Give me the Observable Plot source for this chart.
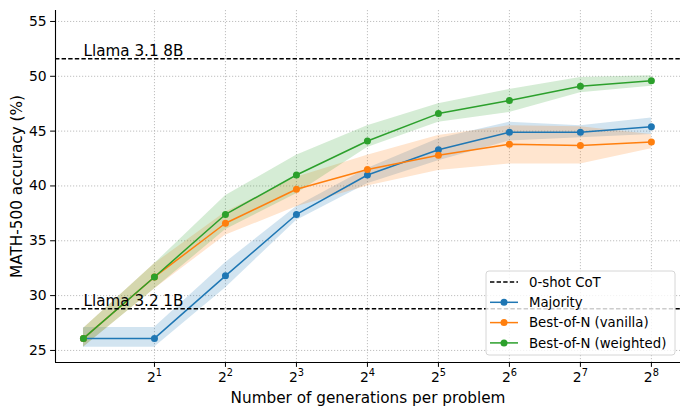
<!DOCTYPE html>
<html>
<head>
<meta charset="utf-8">
<script src="https://cdn.jsdelivr.net/npm/d3@7"></script>
<script src="https://cdn.jsdelivr.net/npm/@observablehq/plot@0.6"></script>
<style>
  body { margin: 0; background: #fff; }
  #chart { position: relative; width: 690px; height: 413px; }
  #chart svg { font-family: "DejaVu Sans" !important; font-size: 13.9px !important; }
</style>
</head>
<body>
<div id="chart"></div>
<script>
const N = [1, 2, 4, 8, 16, 32, 64, 128, 256];
const majority = [26.1, 26.1, 31.8, 37.4, 41.0, 43.3, 44.9, 44.9, 45.4];
const majorityLo = [25.3, 25.3, 30.7, 36.85, 40.2, 42.3, 44.1, 44.4, 44.7];
const majorityHi = [27.1, 27.1, 33.0, 38.1, 41.6, 44.3, 45.8, 45.5, 46.2];
const vanilla = [26.1, 31.7, 36.6, 39.7, 41.5, 42.8, 43.8, 43.7, 44.0];
const vanillaLo = [25.3, 30.6, 35.5, 38.1, 40.0, 41.4, 42.0, 42.0, 43.4];
const vanillaHi = [27.0, 32.9, 37.6, 40.8, 42.8, 44.6, 45.5, 45.4, 44.7];
const weighted = [26.1, 31.7, 37.4, 41.0, 44.1, 46.6, 47.8, 49.1, 49.6];
const weightedLo = [25.3, 30.6, 36.0, 39.3, 43.5, 45.8, 46.7, 48.5, 49.1];
const weightedHi = [27.0, 32.9, 39.1, 42.8, 45.5, 47.5, 48.8, 49.9, 50.05];
const baselines = [{label: "Llama 3.1 8B", value: 51.6}, {label: "Llama 3.2 1B", value: 28.8}];
const seriesNames = ["Majority", "Best-of-N (vanilla)", "Best-of-N (weighted)"];
const colors = ["#1f77b4", "#ff7f0e", "#2ca02c"];
const yTicks = [25, 30, 35, 40, 45, 50, 55];
const xTicks = [2, 4, 8, 16, 32, 64, 128, 256];

const sup = {1: "¹", 2: "²", 3: "³", 4: "⁴", 5: "⁵", 6: "⁶", 7: "⁷", 8: "⁸"};
const series = [
  {name: seriesNames[0], v: majority, lo: majorityLo, hi: majorityHi, color: colors[0]},
  {name: seriesNames[1], v: vanilla, lo: vanillaLo, hi: vanillaHi, color: colors[1]},
  {name: seriesNames[2], v: weighted, lo: weightedLo, hi: weightedHi, color: colors[2]}
];
const rows = series.flatMap(s => N.map((n, i) => ({n, v: s.v[i], lo: s.lo[i], hi: s.hi[i], name: s.name})));

const xDomain = [Math.pow(2, -0.394), Math.pow(2, 8.41)];
const yDomain = [23.9, 56];
const dash = "4.4,2.2";

const marks = [
  Plot.gridY(yTicks, {stroke: "#b0b0b0", strokeOpacity: 1, strokeWidth: 0.8, strokeDasharray: "1.2,1.8"}),
  Plot.gridX(xTicks, {stroke: "#b0b0b0", strokeOpacity: 1, strokeWidth: 0.8, strokeDasharray: "1.2,1.8"}),
];
for (const s of series) {
  const d = rows.filter(r => r.name === s.name);
  marks.push(Plot.areaY(d, {x: "n", y1: "lo", y2: "hi", fill: s.color, fillOpacity: 0.2}));
}
for (const s of series) {
  const d = rows.filter(r => r.name === s.name);
  marks.push(Plot.line(d, {x: "n", y: "v", stroke: s.color, strokeWidth: 1.5}));
  marks.push(Plot.dot(d, {x: "n", y: "v", fill: s.color, r: 3.5}));
}
marks.push(
  Plot.ruleY(baselines, {y: "value", stroke: "black", strokeWidth: 1.5, strokeDasharray: dash}),
  Plot.text(baselines, {x: 1, y: "value", text: "label", textAnchor: "start", lineAnchor: "bottom", dy: -3, fontSize: 15.2, fill: "black"}),
  Plot.ruleX([xDomain[0]], {stroke: "black", strokeWidth: 1.1}),
  Plot.ruleY([yDomain[0]], {stroke: "black", strokeWidth: 1.1}),
  Plot.axisY(yTicks, {tickSize: 4.9, tickPadding: 4, fontSize: 13.9, label: null}),
  Plot.axisX(xTicks, {tickSize: 4.9, tickPadding: 4.5, tickFormat: d => "2" + sup[Math.round(Math.log2(d))], fontSize: 13.9, label: null}),
  Plot.axisY(yTicks, {tickSize: 0, tickFormat: () => "", label: "MATH-500 accuracy (%)", labelAnchor: "center", labelArrow: "none", labelOffset: 44, fontSize: 15.28}),
  Plot.axisX(xTicks, {tickSize: 0, tickFormat: () => "", label: "Number of generations per problem", labelAnchor: "center", labelArrow: "none", labelOffset: 40, fontSize: 15.28})
);

const plot = Plot.plot({
  width: 690,
  height: 413,
  marginLeft: 55,
  marginRight: 10,
  marginTop: 10,
  marginBottom: 51,
  style: {fontFamily: "DejaVu Sans", fontSize: "13.9px", color: "black", background: "white"},
  x: {type: "log", base: 2, domain: xDomain},
  y: {domain: yDomain},
  marks
});
document.getElementById("chart").appendChild(plot);

const svg = d3.select(plot);
// Render exponent tick labels as "2" + raised smaller digit (mathtext-like)
const supInv = Object.fromEntries(Object.entries(sup).map(([k, v]) => [v, k]));
svg.selectAll("text").each(function() {
  const t = this.textContent;
  if (/^2[¹²³⁴⁵⁶⁷⁸]$/.test(t) && this.childElementCount === 0) {
    const el = d3.select(this);
    el.text(null);
    el.append("tspan").text("2");
    el.append("tspan").attr("dy", "-6").attr("font-size", "9.8px").text(supInv[t[1]]);
  }
});

// Legend inside plot (lower right)
const lg = svg.append("g").attr("font-family", "DejaVu Sans").attr("font-size", "13.3px").attr("text-anchor", "start");
lg.append("rect").attr("x", 486).attr("y", 271).attr("width", 189).attr("height", 84)
  .attr("rx", 3).attr("fill", "white").attr("fill-opacity", 0.8).attr("stroke", "#cccccc").attr("stroke-width", 0.8);
const legendItems = [{name: "0-shot CoT", color: "black", dashed: true}].concat(series.map(s => ({name: s.name, color: s.color, dashed: false})));
legendItems.forEach((it, i) => {
  const y = 282 + i * 20.3;
  lg.append("line").attr("x1", 490).attr("x2", 518).attr("y1", y).attr("y2", y)
    .attr("stroke", it.color).attr("stroke-width", 1.5).attr("stroke-dasharray", it.dashed ? dash : null);
  if (!it.dashed) lg.append("circle").attr("cx", 504).attr("cy", y).attr("r", 3.5).attr("fill", it.color);
  lg.append("text").attr("x", 529).attr("y", y).attr("dy", "0.35em").attr("fill", "black").attr("text-anchor", "start").attr("font-size", "13.3px").text(it.name);
});
</script>
</body>
</html>
